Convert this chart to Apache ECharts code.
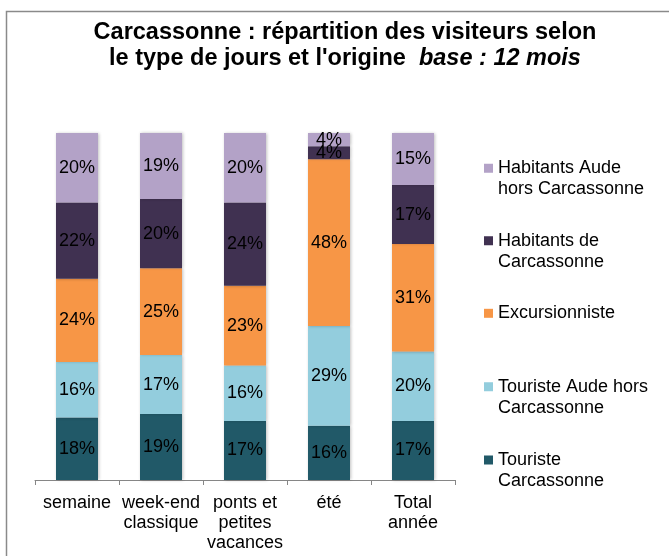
<!DOCTYPE html>
<html>
<head>
<meta charset="utf-8">
<script src="https://cdn.jsdelivr.net/npm/echarts@6/dist/echarts.min.js"></script>
<style>
  html, body { margin: 0; padding: 0; background: #fff; }
  #chart { width: 669px; height: 556px; }
</style>
</head>
<body>
<div id="chart"></div>
<script>
// categories (x axis)
var categories = ['semaine', 'week-end\nclassique', 'ponts et\npetites\nvacances', 'été', 'Total\nannée'];

// shares in %, bottom of the stack first
var touristeCarcassonne = [18, 19, 17, 15.6, 17];
var touristeAude = [16, 17, 16, 28.8, 20];
var excursionniste = [24, 25, 23, 48, 31];
var habitantsCarcassonne = [22, 20, 24, 3.8, 17];
var habitantsAude = [20, 19, 20, 3.8, 15];

var seriesNames = ['Touriste Carcassonne', 'Touriste Aude hors Carcassonne', 'Excursionniste',
                   'Habitants de Carcassonne', 'Habitants Aude hors Carcassonne'];
var legendTexts = ['Touriste\nCarcassonne', 'Touriste Aude hors\nCarcassonne', 'Excursionniste',
                   'Habitants de\nCarcassonne', 'Habitants Aude\nhors Carcassonne'];
var colors = ['#215968', '#93CDDD', '#F79646', '#403151', '#B3A2C7'];
var values = [touristeCarcassonne, touristeAude, excursionniste, habitantsCarcassonne, habitantsAude];

var font = "'Liberation Sans', Arial, sans-serif";

var chart = echarts.init(document.getElementById('chart'));

var series = [];
for (var i = 0; i < values.length; i++) {
    series.push({
        name: seriesNames[i],
        type: 'bar',
        stack: 'total',
        barWidth: 42,
        data: values[i],
        itemStyle: {
            color: colors[i],
            shadowColor: 'rgba(0,0,0,0.25)',
            shadowBlur: 3,
            shadowOffsetX: 1
        },
        label: {
            show: true,
            position: 'inside',
            color: '#000',
            fontFamily: font,
            fontSize: 18,
            formatter: function (p) { return Math.round(p.value) + '%'; }
        }
    });
}

// one legend per item so each can sit where it is in the picture
// (square aligned with the first text line)
var legendTops = [449.5, 376.2, 302.8, 230.2, 157.8];
var legends = [];
for (var j = 0; j < seriesNames.length; j++) {
    var twoLines = legendTexts[j].indexOf('\n') >= 0;
    legends.push({
        left: 484,
        top: legendTops[j],
        padding: 0,
        orient: 'vertical',
        selectedMode: false,
        itemWidth: 9,
        itemHeight: twoLines ? 30 : 9,
        data: [{
            name: seriesNames[j],
            icon: twoLines ? 'path://M0,0H9V9H0Z M0,30H0.01' : 'rect'
        }],
        formatter: (function (t) { return function () { return t; }; })(legendTexts[j]),
        textStyle: { fontFamily: font, fontSize: 18, lineHeight: 21, color: '#000' }
    });
}

var option = {
    animation: false,
    backgroundColor: '#fff',
    title: {
        text: 'Carcassonne : répartition des visiteurs selon\n{n|le type de jours et l\'origine  }{i|base : 12 mois}',
        left: 345,
        top: 20,
        padding: 0,
        textAlign: 'center',
        textStyle: {
            fontFamily: font,
            fontSize: 23.5,
            fontWeight: 'bold',
            lineHeight: 26,
            color: '#000',
            rich: {
                n: { fontFamily: font, fontSize: 23.5, fontWeight: 'bold', lineHeight: 26, color: '#000' },
                i: { fontFamily: font, fontSize: 23.5, fontWeight: 'bold', fontStyle: 'italic', lineHeight: 26, color: '#000' }
            }
        }
    },
    graphic: [{
        type: 'rect',
        shape: { x: 6.5, y: 11.5, width: 700, height: 600 },
        style: { fill: 'none', stroke: '#8a8a8a', lineWidth: 1.5 },
        silent: true
    }],
    legend: legends,
    grid: { left: 35, right: 214, top: 133, bottom: 76 },
    xAxis: {
        type: 'category',
        data: categories,
        axisLine: { lineStyle: { color: '#868686', width: 1 } },
        axisTick: { show: true, length: 5, lineStyle: { color: '#868686' } },
        axisLabel: {
            interval: 0,
            margin: 13,
            color: '#000',
            fontFamily: font,
            fontSize: 18,
            lineHeight: 20
        }
    },
    yAxis: {
        type: 'value',
        min: 0,
        max: 100,
        show: false
    },
    series: series
};

chart.setOption(option);
</script>
</body>
</html>
